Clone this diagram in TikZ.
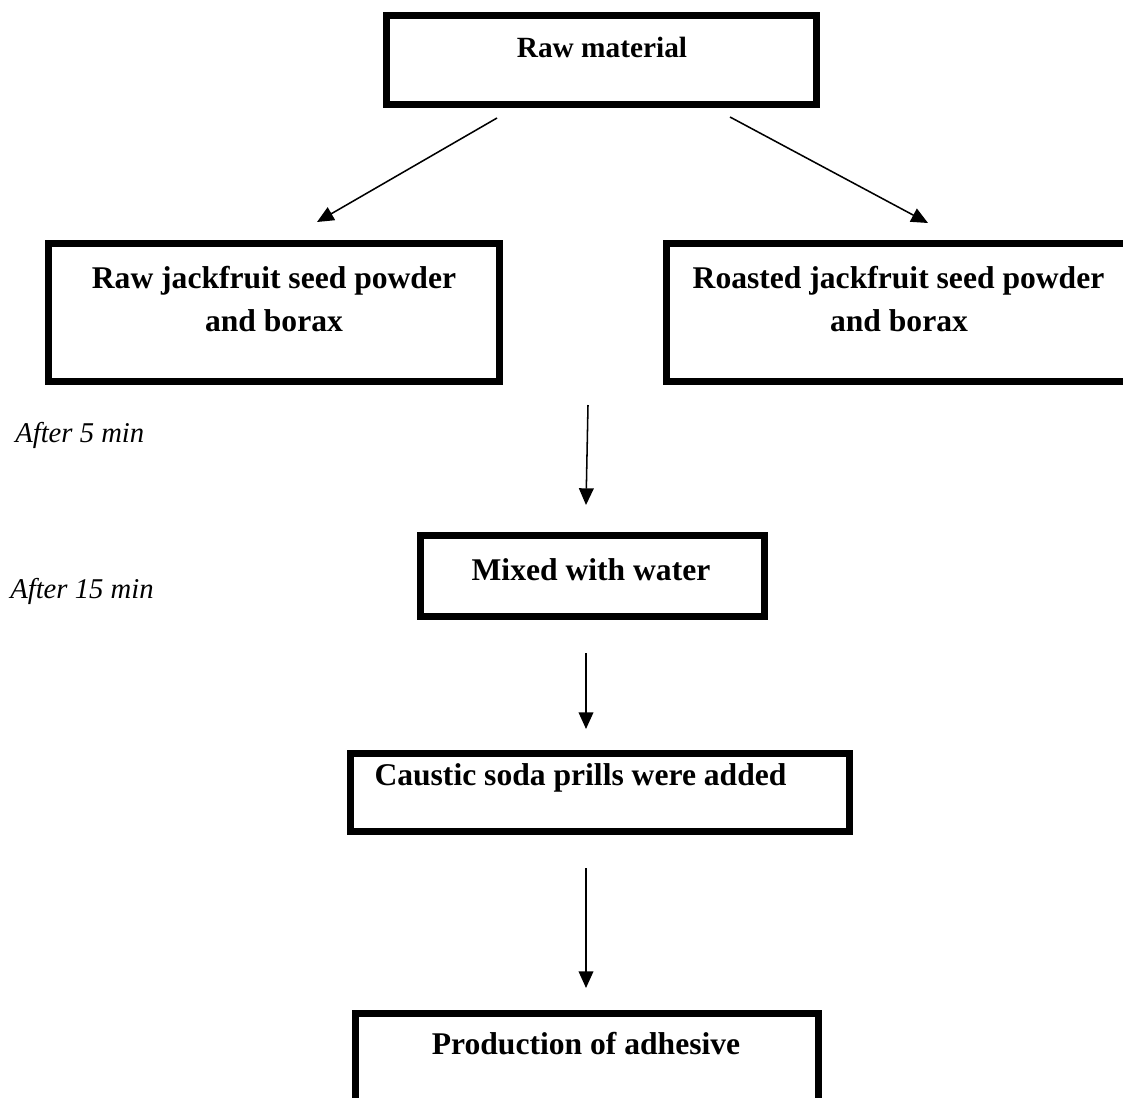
\documentclass[tikz,border=0pt]{standalone}
\usepackage{fontspec}
\setmainfont{Liberation Serif}
\usetikzlibrary{arrows.meta,fit}
\begin{document}
\begin{tikzpicture}[x=0.75pt,y=-0.75pt,
  box/.style={draw, line width=5.25pt, inner sep=0pt, rectangle},
  lbl/.style={font=\bfseries\fontsize{23.7}{28}\selectfont, anchor=base, inner sep=0pt},
  note/.style={font=\itshape\fontsize{21.5}{25}\selectfont, anchor=base west, inner sep=0pt},
  arr/.style={-{Triangle[length=12.5pt,width=11pt]}, line width=1.15pt}]
\useasboundingbox (0,0) rectangle (1123,1097);
% boxes
\node[box, fit={(386.5,15.5) (816.5,104.5)}] (raw) {};
\node[box, fit={(48.5,243.5) (499.5,381.5)}] (rawjf) {};
\node[box, fit={(666.5,243.5) (1130.5,381.5)}] (roast) {};
\node[box, fit={(420.5,535.5) (764.5,616.5)}] (mix) {};
\node[box, fit={(350.5,753.5) (849.5,831.5)}] (caustic) {};
\node[box, fit={(355.5,1013.5) (818.5,1130)}] (prod) {};
% texts
\node[lbl, font=\bfseries\fontsize{22}{26}\selectfont] (tRaw) at (602,57) {Raw material};
\node[lbl] (tRawJ1) at (274,288) {Raw jackfruit seed powder};
\node[lbl] (tRawJ2) at (274,331) {and borax};
\node[lbl] (tRoast1) at (898.5,288) {Roasted jackfruit seed powder};
\node[lbl] (tRoast2) at (899,331) {and borax};
\node[lbl] (tMix) at (591,580) {Mixed with water};
\node[lbl] (tCaus) at (580.5,785) {Caustic soda prills were added};
\node[lbl] (tProd) at (586,1054) {Production of adhesive};
\node[note] (n5) at (15,442) {After 5 min};
\node[note] (n15) at (10,598) {After 15 min};
% arrow end points
\coordinate (a1s) at (497,118);
\coordinate (a1e) at (317,222);
\coordinate (a2s) at (730,117);
\coordinate (a2e) at (928,223);
\coordinate (a3s) at (588,405);
\coordinate (a3e) at (586,505);
\coordinate (a4s) at (586,653);
\coordinate (a4e) at (586,729);
\coordinate (a5s) at (586,868);
\coordinate (a5e) at (586,988);
\draw[arr] (a1s) -- (a1e);
\draw[arr] (a2s) -- (a2e);
\draw[arr] (a3s) -- (a3e);
\draw[arr] (a4s) -- (a4e);
\draw[arr] (a5s) -- (a5e);
\end{tikzpicture}
\end{document}
